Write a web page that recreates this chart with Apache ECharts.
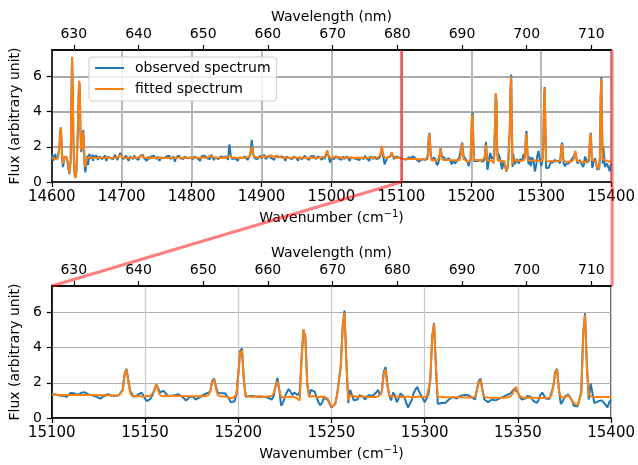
<!DOCTYPE html>
<html><head><meta charset="utf-8">
<script src="https://cdn.jsdelivr.net/npm/echarts@6/dist/echarts.min.js"></script>
<style>html,body{margin:0;padding:0;background:#fff}#c{width:638px;height:465px}</style>
</head><body><div id="c"></div>
<script>
// ---- data ----
// segment starts (cm^-1) and steps
const segA = {start: 14600, step: 1};
const segB = {start: 14662, step: 2};
const segC = {start: 15100, step: 1};

const observedA = [1.35,1.55,1.2,1.5,1.3,1.6,1.25,1.45,1.3,1.5,
 1.4,2.0,2.9,3.1,2.2,1.3,0.85,1.1,1.4,1.5,
 1.5,1.4,1.3,1.0,0.7,0.45,0.4,1.2,4.5,7.1,
 5.0,2.2,0.8,0.3,0.2,0.5,1.5,2.6,4.2,5.7,
 5.4,2.8,1.7,1.9,2.7,2.95,2.0,0.9,0.55,0.9,
 1.25,1.5,0.95,1.45,1.6,1.3,1.5,1.35,1.55,1.2,
 1.45];
const fittedA = [1.35,1.4,1.3,1.35,1.35,1.4,1.3,1.35,1.35,1.4,
 1.45,2.0,2.9,3.1,2.3,1.4,1.05,1.2,1.4,1.5,
 1.5,1.45,1.35,1.1,0.8,0.5,0.4,1.3,4.6,7.12,
 5.2,2.3,0.9,0.35,0.22,0.55,1.6,2.7,4.3,5.75,
 5.5,2.9,1.8,2.0,2.6,2.85,2.0,1.0,0.85,1.1,
 1.3,1.38,1.36,1.4,1.4,1.38,1.4,1.38,1.39,1.38,
 1.38];

const observedB = [1.35,1.5,1.25,1.45,1.55,1.3,1.4,1.5,1.2,1.45,
 1.5,1.35,1.45,1.3,1.55,1.4,1.25,1.5,1.65,1.45,
 1.3,1.4,1.5,1.35,1.2,1.45,1.4,1.3,1.5,1.35,
 1.4,1.25,1.45,1.5,1.55,1.35,1.4,1.2,1.45,1.3,
 1.45,1.35,1.5,1.4,1.3,1.45,1.2,1.4,1.5,1.35,
 1.25,1.45,1.4,1.5,1.3,1.35,1.45,1.15,1.4,1.45,
 1.5,1.35,1.4,1.3,1.45,1.5,1.35,1.25,1.4,1.45,
 1.3,1.45,1.5,1.35,1.4,1.2,1.45,1.35,1.5,1.4,
 1.35,1.45,1.3,1.55,1.5,1.25,1.4,1.45,1.3,1.4,
 1.45,1.35,1.4,1.3,1.45,1.25,2.14,1.5,1.3,1.4,
 1.35,1.45,1.2,1.4,1.5,1.35,1.3,1.45,1.4,1.25,
 1.4,1.6,2.4,1.6,1.35,1.45,1.3,1.4,1.5,1.35,
 1.45,1.55,1.3,1.4,1.5,1.55,1.35,1.45,1.25,1.5,
 1.55,1.4,1.3,1.45,1.35,1.4,1.2,1.45,1.5,1.35,
 1.4,1.3,1.45,1.5,1.35,1.2,1.4,1.45,1.3,1.4,
 1.5,1.35,1.4,1.25,1.45,1.35,1.5,1.4,1.3,1.45,
 1.35,1.4,1.25,1.45,1.3,1.5,1.7,1.45,1.1,1.35,
 1.4,1.3,1.45,1.5,1.35,1.4,1.25,1.45,1.3,1.4,
 1.45,1.35,1.2,1.4,1.5,1.35,1.45,1.3,1.4,1.25,
 1.4,1.45,1.3,1.5,1.35,1.4,1.2,1.45,1.35,1.3,
 1.45,1.3,1.4,1.35,1.5,1.9,1.45,1.0,1.2,1.4,
 1.35,1.45,1.6,1.5,1.3,1.45,1.35,1.4,1.3];
const fittedB = [1.38,1.4,1.37,1.38,1.4,1.38,1.37,1.39,1.38,1.37,
 1.38,1.4,1.37,1.38,1.39,1.37,1.38,1.45,1.55,1.42,
 1.38,1.37,1.39,1.38,1.37,1.38,1.4,1.37,1.38,1.39,
 1.37,1.38,1.45,1.55,1.42,1.38,1.37,1.38,1.39,1.38,
 1.37,1.38,1.39,1.38,1.37,1.38,1.37,1.39,1.38,1.37,
 1.38,1.39,1.37,1.38,1.38,1.37,1.39,1.38,1.37,1.38,
 1.39,1.38,1.37,1.38,1.39,1.37,1.38,1.38,1.37,1.39,
 1.38,1.37,1.38,1.39,1.38,1.37,1.38,1.39,1.38,1.37,
 1.38,1.4,1.48,1.55,1.43,1.38,1.37,1.38,1.39,1.38,
 1.37,1.38,1.39,1.38,1.37,1.4,1.5,1.42,1.38,1.37,
 1.38,1.39,1.37,1.38,1.38,1.39,1.37,1.38,1.4,1.38,
 1.4,1.55,2.03,1.6,1.42,1.38,1.4,1.38,1.39,1.42,
 1.48,1.55,1.42,1.38,1.45,1.5,1.52,1.42,1.38,1.4,
 1.5,1.55,1.43,1.38,1.37,1.38,1.39,1.38,1.37,1.38,
 1.38,1.37,1.39,1.38,1.38,1.37,1.38,1.39,1.38,1.37,
 1.38,1.39,1.37,1.38,1.38,1.37,1.39,1.38,1.37,1.38,
 1.38,1.37,1.39,1.38,1.4,1.5,1.8,1.5,1.38,1.37,
 1.38,1.4,1.45,1.5,1.42,1.38,1.37,1.38,1.39,1.38,
 1.37,1.38,1.39,1.38,1.37,1.38,1.38,1.37,1.39,1.38,
 1.37,1.38,1.38,1.39,1.37,1.38,1.38,1.37,1.38,1.39,
 1.38,1.37,1.38,1.4,1.55,2.05,1.55,1.4,1.38,1.37,
 1.38,1.45,1.7,1.48,1.38,1.37,1.38,1.37,1.36];

const observedC = [1.33,1.35,1.33,1.3,1.28,1.3,1.27,1.24,1.2,1.3,
 1.42,1.45,1.4,1.35,1.32,1.38,1.45,1.5,1.45,1.38,
 1.32,1.3,1.28,1.3,1.2,1.15,1.1,1.15,1.25,1.33,
 1.35,1.3,1.28,1.26,1.25,1.28,1.3,1.32,1.6,2.5,
 2.8,2.2,1.55,1.45,1.2,1.15,1.3,1.4,1.45,1.3,
 1.1,0.95,0.92,1.1,1.3,1.6,1.9,1.7,1.45,1.5,
 1.55,1.4,1.28,1.3,1.25,1.28,1.3,1.32,1.35,1.32,
 1.2,1.1,1.0,1.05,1.2,1.28,1.2,1.05,1.0,1.15,
 1.25,1.3,1.35,1.4,1.3,1.5,2.1,2.25,1.8,1.45,
 1.35,1.4,1.3,1.4,1.25,1.1,0.9,0.8,0.95,1.3,
 2.5,3.8,3.95,2.2,1.2,1.15,1.25,1.2,1.25,1.3,
 1.2,1.25,1.22,1.25,1.2,1.3,1.15,1.1,1.05,1.25,
 1.8,2.28,1.6,0.7,0.85,1.2,1.45,1.65,1.5,1.3,
 1.45,1.5,1.3,1.5,3.5,5.0,4.6,2.0,1.25,1.6,
 1.6,1.5,1.2,0.9,0.72,0.9,1.15,1.2,1.05,0.8,
 0.6,0.55,0.8,1.3,1.35,3.0,5.2,6.1,3.2,0.85,
 1.6,1.3,1.0,0.9,1.05,1.3,1.35,1.2,1.05,1.15,
 1.3,1.4,1.25,1.2,1.45,1.6,1.3,1.5,2.6,2.9,
 1.9,1.3,1.0,1.45,1.3,0.9,1.1,1.4,1.35,1.2,
 0.9,0.6,0.7,1.0,1.4,1.6,1.77,1.5,1.3,1.1,
 0.9,1.1,1.35,2.2,4.6,5.4,3.0,0.8,0.72,0.85,
 0.8,0.85,0.95,1.05,1.15,1.2,1.15,1.1,1.2,1.25,
 1.35,1.3,1.2,1.3,1.25,1.2,1.1,1.05,1.6,2.1,
 2.24,1.6,1.05,0.95,0.9,1.0,1.05,0.95,1.0,1.05,
 1.1,1.15,1.2,1.25,1.3,1.35,1.4,1.5,1.65,1.7,
 1.45,1.2,1.05,1.05,1.1,1.25,1.35,1.2,1.0,0.9,
 0.85,1.0,1.3,1.45,1.35,1.1,1.05,1.1,1.2,1.8,
 2.6,2.8,1.6,0.8,0.95,1.2,1.3,1.35,1.25,1.0,
 0.7,0.6,0.65,0.75,1.5,4.8,5.95,3.0,1.05,1.96,
 1.4,0.85,0.8,0.95,1.05,1.0,0.95,0.75,0.6,0.9,
 1.05];
const fittedC = [1.33,1.33,1.32,1.32,1.31,1.31,1.3,1.3,1.3,1.3,
 1.3,1.3,1.3,1.3,1.3,1.3,1.3,1.3,1.3,1.3,
 1.3,1.3,1.3,1.29,1.29,1.29,1.29,1.29,1.29,1.29,
 1.29,1.28,1.28,1.28,1.28,1.28,1.28,1.3,1.55,2.4,
 2.78,2.1,1.45,1.25,1.22,1.25,1.27,1.25,1.22,1.2,
 1.22,1.25,1.24,1.25,1.3,1.55,1.92,1.6,1.3,1.22,
 1.23,1.24,1.25,1.25,1.25,1.25,1.25,1.25,1.25,1.25,
 1.25,1.24,1.24,1.24,1.24,1.24,1.24,1.24,1.24,1.24,
 1.24,1.24,1.24,1.24,1.3,1.5,2.05,2.2,1.7,1.3,
 1.22,1.22,1.23,1.22,1.2,1.15,1.1,1.12,1.15,1.3,
 2.4,3.7,3.85,2.1,1.25,1.2,1.22,1.25,1.2,1.22,
 1.23,1.2,1.22,1.24,1.2,1.22,1.24,1.2,1.25,1.4,
 1.8,2.1,1.6,1.2,1.1,1.18,1.22,1.2,1.2,1.22,
 1.2,1.15,1.05,1.0,3.4,5.05,4.5,1.9,1.2,1.3,
 1.25,1.22,1.2,1.22,1.2,1.2,1.22,1.2,1.1,0.85,
 0.62,0.59,0.8,1.3,1.38,2.9,5.1,6.0,3.1,1.0,
 1.3,1.2,1.25,1.22,1.18,1.2,1.22,1.2,1.22,1.2,
 1.2,1.22,1.2,1.22,1.2,1.25,1.3,1.5,2.45,2.75,
 1.8,1.25,1.2,1.22,1.2,1.22,1.2,1.2,1.22,1.2,
 1.2,1.22,1.2,1.2,1.22,1.2,1.2,1.22,1.2,1.2,
 1.18,1.2,1.3,2.1,4.5,5.35,2.9,1.2,1.18,1.2,
 1.2,1.18,1.2,1.18,1.2,1.18,1.2,1.18,1.2,1.18,
 1.18,1.17,1.18,1.17,1.18,1.17,1.18,1.2,1.55,2.0,
 2.15,1.5,1.2,1.17,1.16,1.16,1.15,1.15,1.15,1.15,
 1.15,1.15,1.15,1.15,1.16,1.18,1.22,1.35,1.6,1.77,
 1.45,1.22,1.16,1.15,1.15,1.15,1.15,1.15,1.15,1.15,
 1.15,1.14,1.15,1.14,1.15,1.14,1.15,1.15,1.3,1.85,
 2.5,2.75,1.55,1.2,1.15,1.15,1.25,1.3,1.2,1.0,
 0.85,0.75,0.72,0.8,1.4,4.7,5.85,2.9,1.3,1.4,
 1.2,1.25,1.2,1.15,1.2,1.25,1.2,1.15,1.2,1.25,
 1.2];

const wavelengthTicks = [630, 640, 650, 660, 670, 680, 690, 700, 710];
const fluxTicks = [0, 2, 4, 6];
const seriesNames = ['observed spectrum', 'fitted spectrum'];

// ---- build ----
function pairs(seg, vals) { return vals.map((v, i) => [seg.start + i * seg.step, v]); }
const obsAll = pairs(segA, observedA).concat(pairs(segB, observedB), pairs(segC, observedC));
const fitAll = pairs(segA, fittedA).concat(pairs(segB, fittedB), pairs(segC, fittedC));
const obsZoom = pairs(segC, observedC);
const fitZoom = pairs(segC, fittedC);

const F = 'DejaVu Sans';
const BLUE = '#1f77b4', ORANGE = '#ff7f0e';
const chart = echarts.init(document.getElementById('c'), null, {renderer: 'canvas'});
const plain = v => String(v);

function wnAxis(grid, min, max, interval, vGrid) {
  return {
    gridIndex: grid, type: 'value', position: 'bottom', min: min, max: max, interval: interval,
    axisLine: {show: true, onZero: false, lineStyle: {color: '#000', width: 1.5}},
    axisTick: {show: true, length: 5, lineStyle: {color: '#000', width: 1.2}},
    axisLabel: {color: '#000', fontSize: 15, fontFamily: F, margin: 8, formatter: plain},
    splitLine: {show: true, lineStyle: {color: vGrid.c, width: vGrid.w}},
    name: 'Wavenumber (cm{sup|\u22121})', nameLocation: 'middle', nameGap: 27,
    nameTextStyle: {color: '#000', fontSize: 14, fontFamily: F,
      rich: {sup: {color: '#000', fontSize: 10, fontFamily: F, padding: [0, 0, 8, 0]}}}
  };
}
function wlAxis(grid) {
  return {
    gridIndex: grid, type: 'value', position: 'top', min: 626.6, max: 713.05,
    axisLine: {show: true, onZero: false, lineStyle: {color: '#000', width: 1.5}},
    axisTick: {show: true, length: 5, customValues: wavelengthTicks, lineStyle: {color: '#000', width: 1.2}},
    axisLabel: {color: '#000', fontSize: 14, fontFamily: F, margin: 9, customValues: wavelengthTicks, formatter: plain},
    splitLine: {show: false},
    name: 'Wavelength (nm)', nameLocation: 'middle', nameGap: 26,
    nameTextStyle: {color: '#000', fontSize: 14, fontFamily: F}
  };
}
function fluxAxis(grid, hGrid) {
  return {
    gridIndex: grid, type: 'value', min: 0, max: 7.5, interval: 2,
    axisLine: {show: true, onZero: false, lineStyle: {color: '#000', width: 1.5}},
    axisTick: {show: true, length: 5, customValues: fluxTicks, lineStyle: {color: '#000', width: 1.2}},
    axisLabel: {color: '#000', fontSize: 14, fontFamily: F, margin: 10, customValues: fluxTicks, formatter: plain},
    splitLine: {show: true, lineStyle: {color: hGrid.c, width: hGrid.w}},
    name: 'Flux (arbitrary unit)', nameLocation: 'middle', nameGap: 25,
    nameTextStyle: {color: '#000', fontSize: 14, fontFamily: F}
  };
}
function line(name, data, xi, yi, color, z) {
  return {name: name, type: 'line', data: data, xAxisIndex: xi, yAxisIndex: yi,
    showSymbol: false, symbol: 'none', animation: false, z: z,
    lineStyle: {color: color, width: 2}, itemStyle: {color: color}};
}

chart.setOption({
  animation: false,
  backgroundColor: '#fff',
  grid: [
    {left: 47, top: 50, width: 567, height: 132, show: true, borderColor: '#000', borderWidth: 1.5, backgroundColor: 'transparent'},
    {left: 47, top: 286, width: 567, height: 132, show: true, borderColor: '#000', borderWidth: 1.5, backgroundColor: 'transparent'}
  ],
  xAxis: [
    wnAxis(0, 14600, 15400, 100, {c: '#b8b8b8', w: 2}),
    wlAxis(0),
    wnAxis(1, 15100, 15400, 50, {c: '#c8c8c8', w: 1.2}),
    wlAxis(1)
  ],
  yAxis: [fluxAxis(0, {c: '#aaaaaa', w: 2}), fluxAxis(1, {c: '#b0b0b0', w: 1.2})],
  legend: {
    data: seriesNames, orient: 'vertical', left: 89, top: 57,
    padding: [4, 6, 5, 6], itemGap: 7, itemWidth: 29, itemHeight: 14,
    icon: 'path://M0,0H29V2H0Z',
    borderColor: '#cccccc', borderWidth: 1, borderRadius: 3, backgroundColor: 'rgba(255,255,255,0.8)',
    textStyle: {color: '#000', fontSize: 14, fontFamily: F, padding: [0, 0, 0, 6]}
  },
  series: [
    line(seriesNames[0], obsAll, 0, 0, BLUE, 2),
    line(seriesNames[1], fitAll, 0, 0, ORANGE, 3),
    line(seriesNames[0], obsZoom, 2, 1, BLUE, 2),
    line(seriesNames[1], fitZoom, 2, 1, ORANGE, 3)
  ]
});

// zoom indicator lines
const topPx = pt => chart.convertToPixel({xAxisIndex: 0, yAxisIndex: 0}, pt);
const botPx = pt => chart.convertToPixel({xAxisIndex: 2, yAxisIndex: 1}, pt);
const a = topPx([15100, 0]), b = topPx([15100, 7.5]);
const d = topPx([15400, 7.5]);
const c = botPx([15100, 7.5]), e = botPx([15400, 7.5]);
const RED = 'rgba(255,0,0,0.5)';
const seg = (p, q) => ({type: 'line', z: 100, silent: true,
  shape: {x1: p[0], y1: p[1], x2: q[0], y2: q[1]}, style: {stroke: RED, lineWidth: 3}});
chart.setOption({graphic: [
  seg(b, a), seg(a, c), seg([d[0] + 1, d[1]], [e[0] + 1, e[1]])
]});
</script></body></html>
